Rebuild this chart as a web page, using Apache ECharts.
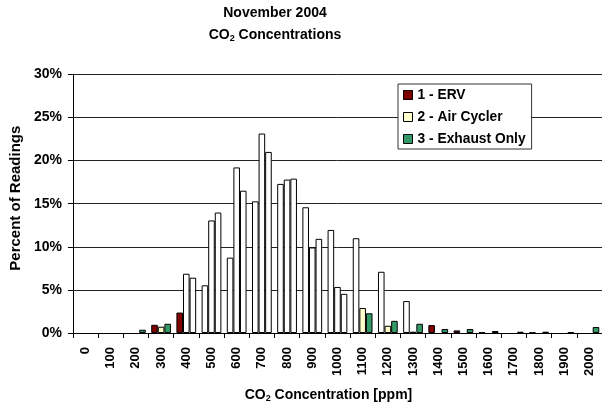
<!DOCTYPE html>
<html>
<head>
<meta charset="utf-8">
<style>
  html, body { margin: 0; padding: 0; background: #fff; }
  #chart { width: 602px; height: 408px; }
</style>
<script src="https://cdn.jsdelivr.net/npm/echarts@6/dist/echarts.min.js"></script>
</head>
<body>
<div id="chart"></div>
<script>
// CO2 concentration bins (ppm)
const categories = ['0', '100', '200', '300', '400', '500', '600', '700', '800', '900', '1000',
  '1100', '1200', '1300', '1400', '1500', '1600', '1700', '1800', '1900', '2000'];

// Percent of readings per bin, one array per house
const ervValues = [0, 0, 0, 0.95, 2.37, 5.53, 8.74, 15.27, 17.29, 14.58, 11.95,
  10.99, 7.1, 3.7, 0.92, 0.3, 0.08, 0, 0.05, 0, 0];
const airCyclerValues = [0, 0, 0, 0.73, 6.87, 13.05, 19.2, 23.13, 17.79, 9.92, 5.34,
  2.9, 0.84, 0.15, 0, 0, 0, 0, 0, 0, 0];
const exhaustValues = [0, 0, 0.38, 1.07, 6.41, 13.97, 16.5, 21.0, 17.9, 10.92, 4.54,
  2.29, 1.41, 1.07, 0.46, 0.46, 0.23, 0.15, 0.15, 0.08, 0.69];

// Y axis tick values (percent)
const yTicks = [0, 5, 10, 15, 20, 25, 30];

const FONT = '"Liberation Sans", Arial, sans-serif';

// Bins drawn with a plain white fill for each house (inclusive category range)
const plainRanges = {
  erv: ['500', '1300'],
  air: ['400', '1000'],
  exhaust: ['400', '1000']
};

function buildData(values, range) {
  const from = categories.indexOf(range[0]);
  const to = categories.indexOf(range[1]);
  return values.map((v, i) => {
    if (v === 0) return '-';            // empty bins draw no bar
    return (i >= from && i <= to)
      ? { value: v, itemStyle: { color: '#ffffff' } }
      : v;
  });
}

function barSeries(name, values, color, range) {
  return {
    name: name,
    type: 'bar',
    data: buildData(values, range),
    barGap: '0%',
    barCategoryGap: '21.6%',
    itemStyle: { color: color, borderColor: '#000', borderWidth: 1 },
    emphasis: { disabled: true },
    animation: false
  };
}

const chart = echarts.init(document.getElementById('chart'), null, { renderer: 'canvas' });

chart.setOption({
  backgroundColor: '#ffffff',
  animation: false,
  title: {
    text: '{t|November 2004}\n{t|CO}{s|2}{t| Concentrations}',
    left: 275,
    top: 2,
    padding: 0,
    textAlign: 'center',
    textStyle: {
      rich: {
        t: { fontFamily: FONT, fontSize: 14, fontWeight: 'bold', color: '#000', lineHeight: 22 },
        s: { fontFamily: FONT, fontSize: 9, fontWeight: 'bold', color: '#000', padding: [7, 0, 0, 0] }
      }
    }
  },
  legend: {
    orient: 'vertical',
    left: 398,
    top: 84,
    padding: [4, 6, 3, 5],
    itemWidth: 9,
    itemHeight: 9,
    itemGap: 8,
    backgroundColor: '#ffffff',
    borderColor: '#333',
    borderWidth: 1,
    borderRadius: 0,
    icon: 'rect',
    selectedMode: false,
    itemStyle: { borderColor: '#000', borderWidth: 1 },
    textStyle: { fontFamily: FONT, fontSize: 13.8, fontWeight: 'bold', color: '#000' },
    data: ['1 - ERV', '2 - Air Cycler', '3 - Exhaust Only']
  },
  grid: {
    left: 71,
    top: 74.3,
    width: 535.5,
    height: 262.4,
    containLabel: false
  },
  xAxis: {
    type: 'category',
    data: categories,
    boundaryGap: true,
    name: '{t|CO}{s|2}{t| Concentration [ppm]}',
    nameLocation: 'middle',
    nameGap: 55,
    nameTextStyle: {
      padding: [0, 18, 0, 0],
      rich: {
        t: { fontFamily: FONT, fontSize: 14, fontWeight: 'bold', color: '#000' },
        s: { fontFamily: FONT, fontSize: 9, fontWeight: 'bold', color: '#000', padding: [6, 0, 0, 0] }
      }
    },
    axisLine: { lineStyle: { color: '#000', width: 1 } },
    axisTick: { show: true, length: 5, interval: 0, alignWithLabel: false, lineStyle: { color: '#000' } },
    axisLabel: {
      interval: 0,
      rotate: 90,
      margin: 14,
      fontFamily: FONT,
      fontSize: 13,
      fontWeight: 'bold',
      color: '#000'
    },
    splitLine: { show: false }
  },
  yAxis: {
    type: 'value',
    min: yTicks[0],
    max: yTicks[yTicks.length - 1],
    interval: yTicks[1] - yTicks[0],
    name: 'Percent of Readings',
    nameLocation: 'middle',
    nameGap: 46,
    nameTextStyle: {
      fontFamily: FONT, fontSize: 15, fontWeight: 'bold', color: '#000',
      padding: [0, 0, 0, 11]
    },
    axisLine: { show: true, lineStyle: { color: '#000', width: 1 } },
    axisTick: { show: true, length: 5, lineStyle: { color: '#000' } },
    axisLabel: {
      formatter: '{value}%',
      margin: 11,
      fontFamily: FONT,
      fontSize: 14,
      fontWeight: 'bold',
      color: '#000'
    },
    splitLine: { show: true, lineStyle: { color: '#222', width: 1 } }
  },
  series: [
    barSeries('1 - ERV', ervValues, '#800000', plainRanges.erv),
    barSeries('2 - Air Cycler', airCyclerValues, '#FFFFCC', plainRanges.air),
    barSeries('3 - Exhaust Only', exhaustValues, '#339966', plainRanges.exhaust)
  ]
});
</script>
</body>
</html>
